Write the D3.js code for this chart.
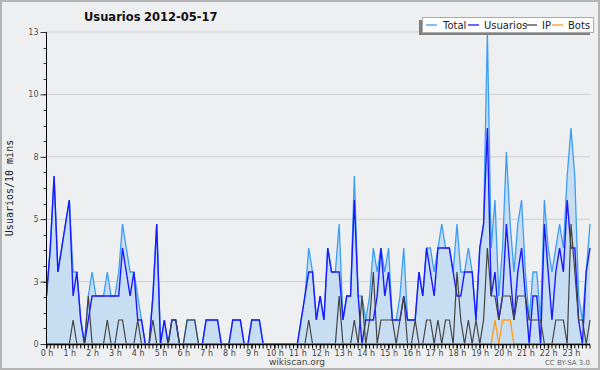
<!DOCTYPE html>
<html>
<head>
<meta charset="utf-8">
<script src="https://cdn.jsdelivr.net/npm/d3@7"></script>
<style>
  body { margin:0; background:#fff; }
  svg { display:block; font-family:"DejaVu Sans", sans-serif; }
</style>
</head>
<body>
<div id="canvas"></div>
<script>
// 10 minute slots, 0h .. 23h50
var total = [2,4,7,3,4,5,6,3,3,1, 0,2,3,2,2,2,3,2,2,3, 5,4,3,3,2,1,0,0,2,5,
  0,1,0,1,1,0,0,1,1,1, 0,0,1,1,1,1,0,0,0,1, 1,1,0,0,1,1,1,0,0,0,
  0,0,0,0,0,0,0,1,2,4, 3,1,2,1,4,3,3,5,1,2, 2,7,2,2,1,2,4,3,4,3,
  4,1,1,2,4,1,1,1,3,2, 4,4,3,4,5,4,4,3,5,3, 3,4,3,1,4,5,13,4,6,2,
  4,8,5,3,5,6,3,1,3,3, 1,6,4,3,4,5,4,7,9,7, 2,1,3,5];
var usuarios = [2,4,7,3,4,5,6,2,3,1, 0,1,2,2,2,2,2,2,2,2, 4,3,2,3,1,1,0,0,2,5,
  0,1,0,1,1,0,0,0,0,0, 0,0,1,1,1,1,0,0,0,1, 1,1,0,0,1,1,1,0,0,0,
  0,0,0,0,0,0,0,1,2,3, 3,1,2,1,4,3,3,3,1,2, 2,6,2,0,1,1,1,2,4,2,
  3,1,1,1,2,1,1,1,3,2, 4,3,2,4,4,4,4,3,2,2, 3,3,3,1,4,5,9,2,3,1,
  2,5,3,1,3,4,2,0,2,2, 0,5,3,1,3,4,3,6,4,4, 1,0,3,4];
var ip = [0,0,0,0,0,0,0,1,0,0, 0,2,0,0,0,0,1,0,0,1, 1,0,0,0,1,0,0,0,1,0,
  0,0,0,1,1,0,0,1,1,1, 0,0,0,0,0,0,0,0,0,0, 0,0,0,0,0,0,0,0,0,0,
  0,0,0,0,0,0,0,0,0,1, 0,0,0,0,0,0,0,2,0,0, 0,1,0,2,0,1,3,0,1,1,
  1,1,0,1,2,0,0,1,0,0, 1,1,0,1,0,1,1,0,3,1, 0,1,0,1,0,1,4,2,2,1,
  2,2,2,1,2,2,2,1,1,1, 1,0,0,0,1,1,1,0,5,3, 1,1,0,1];
var bots = [];
for (var k = 0; k < 144; k++) bots.push(0);
bots[118] = 1; bots[120] = 1; bots[121] = 1; bots[122] = 1;

var hourLabels = ['0 h','1 h','2 h','3 h','4 h','5 h','6 h','7 h','8 h','9 h','10 h','11 h',
  '12 h','13 h','14 h','15 h','16 h','17 h','18 h','19 h','20 h','21 h','22 h','23 h'];
var yTicks = [0, 2.6, 5.2, 7.8, 10.4, 13];
var yTickLabels = ['0','3','5','8','10','13'];
var seriesNames = ['Total','Usuarios','IP','Bots'];
var seriesColors = ['#3d9df5','#1a1aff','#444','#ff9a1a'];

var W = 600, H = 370;
var m = {t:32, r:10, b:26, l:46};

var svg = d3.select('#canvas').append('svg')
  .attr('width', W).attr('height', H);

svg.append('rect')
  .attr('x',1).attr('y',1).attr('width',W-2).attr('height',H-2)
  .attr('fill','#eeeff0').attr('stroke','#b4b4b4').attr('stroke-width',2);

var x = d3.scaleLinear().domain([0,143]).range([46.5, 590]);
var y = d3.scaleLinear().domain([0,13]).range([344, 32]);

// grid
svg.append('g').selectAll('line')
  .data(yTicks.slice(1))
  .enter().append('line')
  .attr('x1',46).attr('x2',590)
  .attr('y1',function(d){return y(d)}).attr('y2',function(d){return y(d)})
  .attr('stroke','#cdcdcd').attr('stroke-width',1);

var idx = d3.range(144);

var area = d3.area()
  .x(function(i){return x(i)})
  .y0(y(0))
  .y1(function(i){return y(total[i])});
svg.append('path').datum(idx)
  .attr('d', area)
  .attr('fill','#c7ddf1');

var data = [total, usuarios, ip, bots];
var widths = [1.3, 1.4, 1.2, 1.3];
data.forEach(function(s, j){
  var line = d3.line()
    .x(function(i){return x(i)})
    .y(function(i){return y(s[i])});
  svg.append('path').datum(idx)
    .attr('d', line)
    .attr('fill','none')
    .attr('stroke', seriesColors[j])
    .attr('stroke-width', widths[j])
    .attr('stroke-linejoin','miter');
});

// y axis
var axisY = d3.axisLeft(y)
  .tickValues(yTicks)
  .tickSize(6)
  .tickPadding(2)
  .tickFormat(function(d,i){return yTickLabels[i]});
var gy = svg.append('g').attr('transform','translate(46.5,0)').call(axisY);
gy.select('.domain').attr('stroke','#000').attr('d','M0,32V344');
gy.selectAll('.tick line').attr('stroke','#333');
gy.selectAll('.tick text').attr('fill','#555').attr('font-size','8px')
  .attr('font-family','"DejaVu Sans", sans-serif');

var minorY = d3.range(0, 13.01, 0.65);
svg.append('g').selectAll('line').data(minorY)
  .enter().append('line')
  .attr('x1',43.5).attr('x2',46.5)
  .attr('y1',function(d){return Math.round(y(d))+0.5}).attr('y2',function(d){return Math.round(y(d))+0.5})
  .attr('stroke','#333');

// x axis
var axisX = d3.axisBottom(x)
  .tickValues(d3.range(0,144,6))
  .tickSize(4)
  .tickPadding(2)
  .tickFormat(function(d){return hourLabels[d/6]});
var gx = svg.append('g').attr('transform','translate(0,344.5)').call(axisX);
gx.select('.domain').attr('stroke','#000').attr('stroke-width',1.5).attr('d','M46,0H590');
gx.selectAll('.tick line').attr('stroke','#000');
gx.selectAll('.tick text').attr('fill','#444').attr('font-size','8px')
  .attr('font-family','"DejaVu Sans", sans-serif');

svg.append('g').selectAll('line').data(idx)
  .enter().append('line')
  .attr('x1',function(i){return x(i)}).attr('x2',function(i){return x(i)})
  .attr('y1',344.5).attr('y2',348.5)
  .attr('stroke','#000').attr('stroke-width',1);

// title
var title = svg.append('text').attr('y',21).attr('font-weight','bold')
  .attr('font-size','11.5px').attr('fill','#111');
title.append('tspan').attr('x',84).text('Usuarios');
title.append('tspan').attr('x',144).text('2012-05-17');

// y axis title
svg.append('text')
  .attr('transform','translate(13,188) rotate(-90)')
  .attr('text-anchor','middle')
  .attr('font-family','"DejaVu Sans Mono", monospace')
  .attr('font-size','10px').attr('fill','#222')
  .text('Usuarios/10 mins');

svg.append('text').attr('x',297).attr('y',365)
  .attr('text-anchor','middle').attr('font-size','9px').attr('fill','#444')
  .text('wikiscan.org');
svg.append('text').attr('x',590).attr('y',365)
  .attr('text-anchor','end').attr('font-size','7px').attr('fill','#666')
  .text('CC BY-SA 3.0');

// legend
var lg = svg.append('g');
lg.append('rect').attr('x',419).attr('y',20).attr('width',171).attr('height',15).attr('fill','#808080');
lg.append('rect').attr('x',422.5).attr('y',17.5).attr('width',171).attr('height',15)
  .attr('fill','#fff').attr('stroke','#aaa');
var lgX = [426, 468, 526, 552];
var lgT = [443, 484, 542, 568];
seriesNames.forEach(function(n, j){
  lg.append('line').attr('x1',lgX[j]).attr('x2',lgX[j]+11)
    .attr('y1',25).attr('y2',25)
    .attr('stroke',seriesColors[j]).attr('stroke-width',1.3);
  lg.append('text').attr('x',lgT[j]).attr('y',29)
    .attr('font-size','10px').attr('fill','#222').text(n);
});
</script>
</body>
</html>
